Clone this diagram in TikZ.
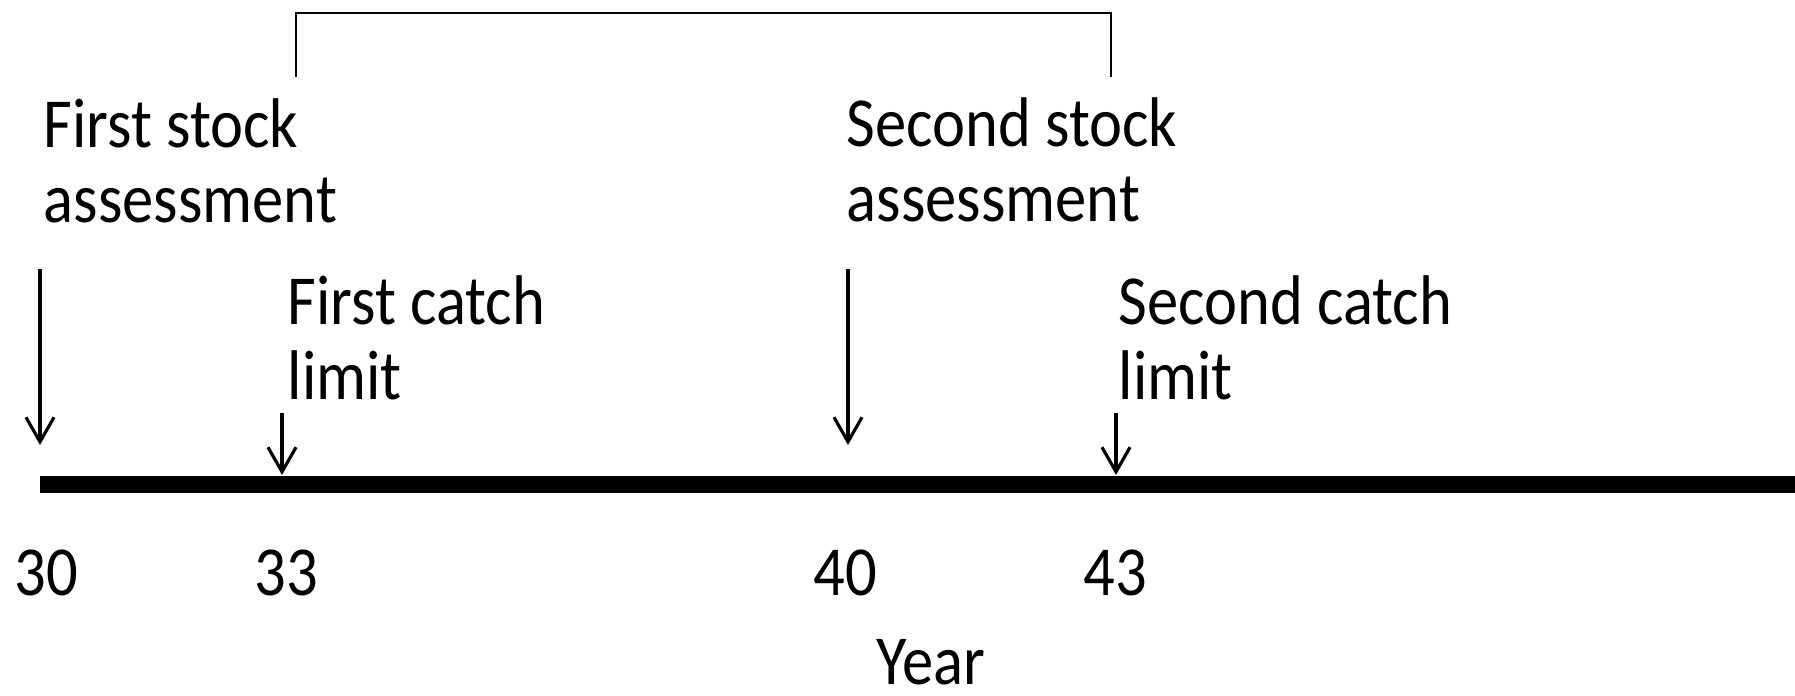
\documentclass[tikz,border=0pt]{standalone}
\usepackage{fontspec}
\setmainfont{Carlito}[FakeStretch=0.89]
\usetikzlibrary{arrows.meta}

\begin{document}
\begin{tikzpicture}[scale=1, transform shape]
    % Define axis height and colours
    \def\axisY{2.105}
    \def\axisEnd{17.95}

    \definecolor{lineColour}{HTML}{000000}

    \tikzset{
        eventText/.style={anchor=base west, align=left, inner sep=0pt,
            font=\fontsize{20}{21.6}\selectfont},
        yearText/.style={anchor=base, inner sep=0pt, font=\fontsize{20}{24}\selectfont},
        marker/.style={draw=lineColour, line width=0.9pt,
            -{Straight Barb[length=7pt,width=8pt]}}
    }

    % Fix picture size
    \useasboundingbox (0,0) rectangle (\axisEnd,6.95);

    % Draw time axis
    \coordinate (axisStart) at (0.40,\axisY);
    \coordinate (axisStop) at (\axisEnd,\axisY);
    \draw[lineColour, line width=0.17cm] (axisStart) -- (axisStop);

    % Label years
    \foreach \x/\yr in {0.46/30, 2.86/33, 8.45/40, 11.15/43}
        \node[yearText] (tick\yr) at (\x,1.00) {\yr};
    \node[yearText] (year) at (9.31,0.11) {Year};

    % Event labels (base is the last line)
    \node[eventText] (firstStock) at (0.43,4.72) {First stock\\assessment};
    \node[eventText] (firstCatch) at (2.87,2.95) {First catch\\limit};
    \node[eventText] (secondStock) at (8.46,4.73) {Second stock\\assessment};
    \node[eventText] (secondCatch) at (11.18,2.95) {Second catch\\limit};

    % Define arrow ends
    \coordinate (firstStockTop) at (0.40,4.26);
    \coordinate (firstStockTip) at (0.40,2.50);
    \coordinate (firstCatchTop) at (2.82,2.82);
    \coordinate (firstCatchTip) at (2.82,2.20);
    \coordinate (secondStockTop) at (8.48,4.26);
    \coordinate (secondStockTip) at (8.48,2.50);
    \coordinate (secondCatchTop) at (11.16,2.82);
    \coordinate (secondCatchTip) at (11.16,2.20);

    % Draw arrows
    \draw[marker] (firstStockTop) -- (firstStockTip);
    \draw[marker] (firstCatchTop) -- (firstCatchTip);
    \draw[marker] (secondStockTop) -- (secondStockTip);
    \draw[marker] (secondCatchTop) -- (secondCatchTip);

    % Draw bracket between assessments
    \coordinate (bracketLeft) at (2.96,6.18);
    \coordinate (bracketRight) at (11.11,6.18);
    \draw[lineColour, line width=0.6pt] (bracketLeft) -- ++(0,0.64) -| (bracketRight);

\end{tikzpicture}
\end{document}
